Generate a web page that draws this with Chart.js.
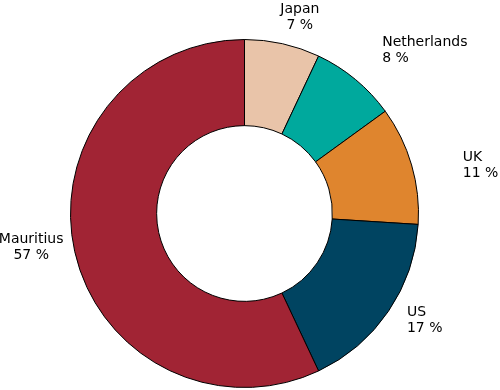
<!DOCTYPE html>
<html>
<head>
<meta charset="utf-8">
<script src="https://cdn.jsdelivr.net/npm/chart.js@4/dist/chart.umd.min.js"></script>
<style>
  html, body { margin: 0; padding: 0; background: #fff; }
  #wrap { width: 500px; height: 390px; position: relative; }
</style>
</head>
<body>
<div id="wrap"><canvas id="chart"></canvas></div>
<script>
// Data
const countries = ["Japan", "Netherlands", "UK", "US", "Mauritius"];
const shares = [7, 8, 11, 17, 57];

// Styles
const sliceColors = ["#E9C4A9", "#00A99D", "#DF852E", "#004461", "#A12434"];
// label placement relative to a point just outside each slice's middle
const labelPlace = [
  { align: "center", dx: 13, dy: -11 },
  { align: "left", dx: 14, dy: -18 },
  { align: "left", dx: 32, dy: 2 },
  { align: "left", dx: 2, dy: -7 },
  { align: "center", dx: -24, dy: -13 },
];

const outsideLabels = {
  id: "outsideLabels",
  afterDatasetsDraw(c) {
    const ctx = c.ctx;
    const meta = c.getDatasetMeta(0);
    ctx.save();
    ctx.fillStyle = "#000";
    ctx.font = "14px 'DejaVu Sans'";
    ctx.textBaseline = "alphabetic";
    meta.data.forEach((arc, i) => {
      const mid = (arc.startAngle + arc.endAngle) / 2;
      const r = arc.outerRadius + 20;
      const p = labelPlace[i];
      const x = arc.x + Math.cos(mid) * r + p.dx;
      const y = arc.y + Math.sin(mid) * r + p.dy;
      ctx.textAlign = p.align;
      ctx.fillText(countries[i], x, y);
      ctx.fillText(shares[i] + " %", x, y + 16);
    });
    ctx.restore();
  },
};

new Chart(document.getElementById("chart"), {
  type: "doughnut",
  data: {
    labels: countries,
    datasets: [
      {
        data: shares,
        backgroundColor: sliceColors,
        borderColor: "#000",
        borderWidth: 1,
      },
    ],
  },
  options: {
    responsive: true,
    maintainAspectRatio: false,
    animation: false,
    cutout: "50.5%",
    layout: { padding: { top: 39, bottom: 2, left: 70, right: 81 } },
    plugins: {
      legend: { display: false },
      tooltip: { enabled: false },
    },
  },
  plugins: [outsideLabels],
});
</script>
</body>
</html>
